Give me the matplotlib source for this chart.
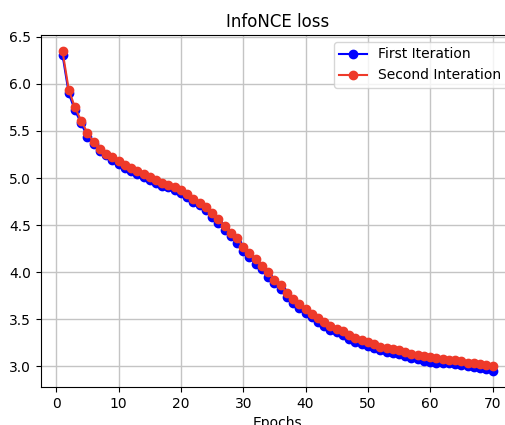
import matplotlib
matplotlib.use("Agg")
import matplotlib.pyplot as plt

epochs = list(range(1, 71))
first_iteration = [
    6.31, 5.90, 5.72, 5.58, 5.44, 5.36, 5.29, 5.24, 5.19, 5.15,
    5.11, 5.08, 5.04, 5.01, 4.98, 4.95, 4.92, 4.90, 4.87, 4.84,
    4.80, 4.75, 4.71, 4.66, 4.59, 4.52, 4.45, 4.38, 4.31, 4.22,
    4.16, 4.09, 4.03, 3.95, 3.88, 3.82, 3.74, 3.67, 3.62, 3.57,
    3.52, 3.47, 3.43, 3.39, 3.36, 3.33, 3.29, 3.26, 3.24, 3.22,
    3.19, 3.17, 3.15, 3.14, 3.13, 3.11, 3.09, 3.08, 3.06, 3.05,
    3.04, 3.04, 3.03, 3.02, 3.01, 3.00, 2.99, 2.98, 2.97, 2.95,
]
second_iteration = [
    6.35, 5.94, 5.75, 5.61, 5.48, 5.38, 5.31, 5.26, 5.22, 5.18,
    5.14, 5.11, 5.07, 5.04, 5.01, 4.98, 4.95, 4.93, 4.90, 4.87,
    4.83, 4.78, 4.74, 4.69, 4.63, 4.56, 4.49, 4.42, 4.36, 4.27,
    4.20, 4.14, 4.07, 4.00, 3.92, 3.86, 3.78, 3.71, 3.66, 3.61,
    3.56, 3.51, 3.47, 3.43, 3.40, 3.37, 3.33, 3.30, 3.28, 3.26,
    3.24, 3.21, 3.19, 3.18, 3.17, 3.15, 3.13, 3.12, 3.11, 3.10,
    3.09, 3.08, 3.07, 3.07, 3.06, 3.04, 3.03, 3.02, 3.01, 3.00,
]

dpi = 100
W, H = 506, 425
fig = plt.figure(figsize=(W / dpi, H / dpi), dpi=dpi)
ax = fig.add_axes([41 / W, 1 - 387 / H, (514 - 41) / W, (387 - 35) / H])

ax.plot(epochs, first_iteration, marker="o", color="blue", label="First Iteration")
ax.plot(epochs, second_iteration, marker="o", color="#ee3a2a", label="Second Interation")
ax.set_title("InfoNCE loss")
ax.set_xlabel("Epochs")
ax.set_xticks([0, 10, 20, 30, 40, 50, 60, 70])
ax.grid(True, color="#c4c4c4", linewidth=1.0)
ax.legend(loc="upper right")

fig.savefig("out.png", dpi=dpi)
